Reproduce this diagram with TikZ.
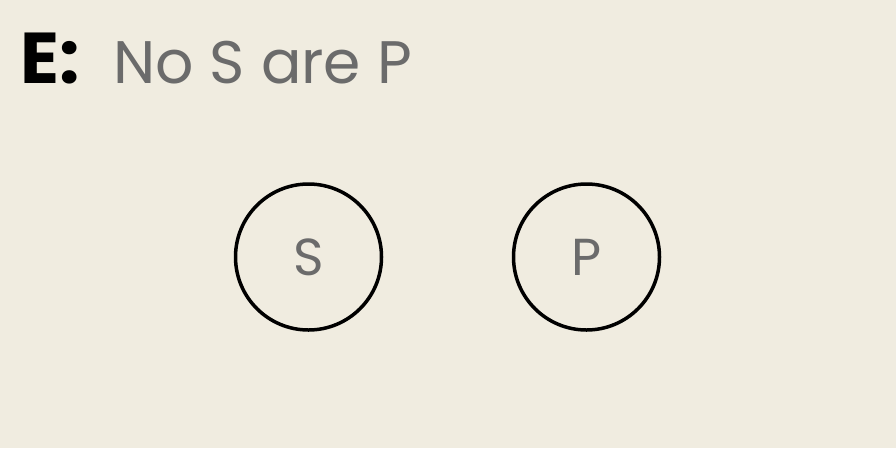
\documentclass[tikz,border=0pt]{standalone}
\usepackage{fontspec}
\setmainfont{Poppins}
\definecolor{bgc}{HTML}{F0ECE0}
\definecolor{txtgray}{HTML}{6B6B6B}
\begin{document}
\begin{tikzpicture}[x=1pt,y=-1pt,
  setcirc/.style={circle,draw=black,line width=3.5pt,minimum size=146pt,inner sep=0pt,text=txtgray,font=\fontsize{52}{52}\selectfont}]
\fill[bgc] (0,0) rectangle (896,448);
\useasboundingbox (0,0) rectangle (896,448);
\node[anchor=base west,inner sep=0pt,font=\fontsize{72}{72}\selectfont\bfseries] (lbl) at (20,83) {E:};
\node[anchor=base west,inner sep=0pt,text=txtgray,font=\fontsize{60}{60}\selectfont] (title) at (113,83) {No S are P};
\node[setcirc] (s) at (308.5,257) {S};
\node[setcirc] (p) at (586.5,257) {P};
\end{tikzpicture}
\end{document}
